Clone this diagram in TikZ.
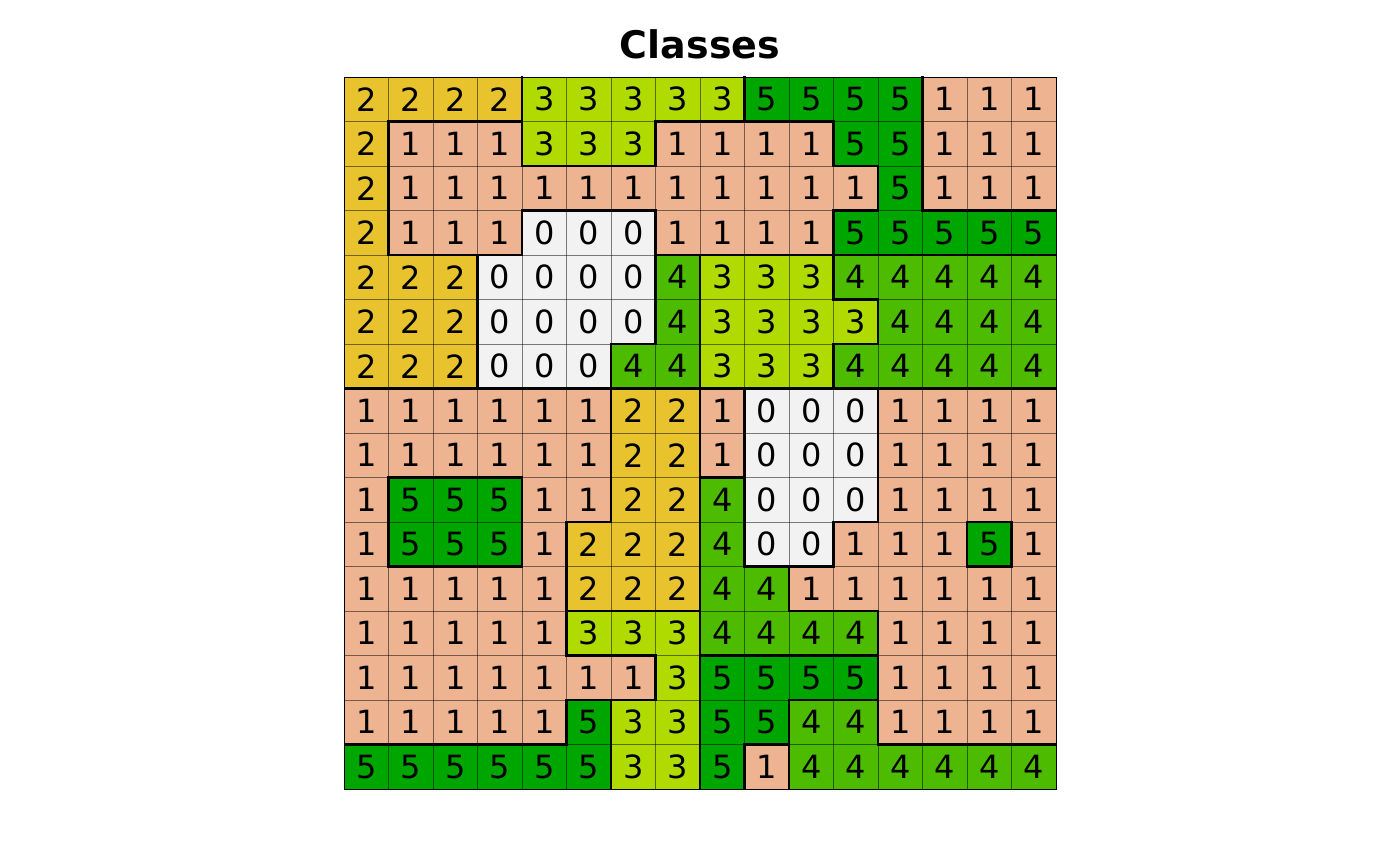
\documentclass[tikz,border=0pt]{standalone}
\usepackage{fontspec}
\setmainfont{DejaVu Sans}
\definecolor{c0}{HTML}{F2F2F2}
\definecolor{c1}{HTML}{EEB391}
\definecolor{c2}{HTML}{E8C32E}
\definecolor{c3}{HTML}{B0DB00}
\definecolor{c4}{HTML}{4DBB00}
\definecolor{c5}{HTML}{00A600}
\definecolor{inkline}{HTML}{020202}
\tikzset{
 cellbox/.style={draw=black,draw opacity=0.5,line width=0.6pt},
 celltext/.style={font=\fontsize{32}{32}\selectfont,text=black,inner sep=0pt},
 regionedge/.style={draw=inkline,line width=2.4pt,line cap=rect},
 frame/.style={draw=black,line width=0.9pt}
}
\begin{document}
\begin{tikzpicture}[x=1pt,y=-1pt]
\useasboundingbox (0,0) rectangle (1400,866);
\fill[white] (0,0) rectangle (1400,866);
\def\cs{44.5}
\def\rowi{{2,2,2,2,3,3,3,3,3,5,5,5,5,1,1,1,
2,1,1,1,3,3,3,1,1,1,1,5,5,1,1,1,
2,1,1,1,1,1,1,1,1,1,1,1,5,1,1,1,
2,1,1,1,0,0,0,1,1,1,1,5,5,5,5,5,
2,2,2,0,0,0,0,4,3,3,3,4,4,4,4,4,
2,2,2,0,0,0,0,4,3,3,3,3,4,4,4,4,
2,2,2,0,0,0,4,4,3,3,3,4,4,4,4,4,
1,1,1,1,1,1,2,2,1,0,0,0,1,1,1,1,
1,1,1,1,1,1,2,2,1,0,0,0,1,1,1,1,
1,5,5,5,1,1,2,2,4,0,0,0,1,1,1,1,
1,5,5,5,1,2,2,2,4,0,0,1,1,1,5,1,
1,1,1,1,1,2,2,2,4,4,1,1,1,1,1,1,
1,1,1,1,1,3,3,3,4,4,4,4,1,1,1,1,
1,1,1,1,1,1,1,3,5,5,5,5,1,1,1,1,
1,1,1,1,1,5,3,3,5,5,4,4,1,1,1,1,
5,5,5,5,5,5,3,3,5,1,4,4,4,4,4,4}}
\foreach \r in {0,...,15}{
 \foreach \c in {0,...,15}{
  \pgfmathtruncatemacro{\v}{\rowi[\r*16+\c]}
  \pgfmathsetmacro{\xa}{344+\c*\cs}
  \pgfmathsetmacro{\ya}{77+\r*\cs}
  \fill[c\v] (\xa,\ya) rectangle ++(\cs,\cs);
 }
}
\foreach \i in {1,...,15}{
  \pgfmathsetmacro{\p}{\i*\cs}
  \draw[cellbox] (344+\p,77) -- (344+\p,789);
  \draw[cellbox] (344,77+\p) -- (1056,77+\p);
}
\begin{scope}
\clip (344,77) rectangle (1056,789);
\foreach \r in {0,...,15}{
 \foreach \c in {0,...,15}{
  \pgfmathtruncatemacro{\v}{\rowi[\r*16+\c]}
  \pgfmathsetmacro{\xa}{344+\c*\cs}
  \pgfmathsetmacro{\ya}{77+\r*\cs}
  \node[celltext,anchor=center] (n\r-\c) at (\xa+\cs/2,\ya+\cs/2) {\v};
  \ifnum\c<15
   \pgfmathtruncatemacro{\w}{\rowi[\r*16+\c+1]}
   \ifnum\v=\w\else\draw[regionedge] (\xa+\cs,\ya) -- ++(0,\cs);\fi
  \fi
  \ifnum\r<15
   \pgfmathtruncatemacro{\w}{\rowi[(\r+1)*16+\c]}
   \ifnum\v=\w\else\draw[regionedge] (\xa,\ya+\cs) -- ++(\cs,0);\fi
  \fi
 }
}
\end{scope}
\draw[frame] (344,77) rectangle (1056,789);
\node[font=\fontsize{38}{38}\selectfont\bfseries,text=black,inner sep=0pt] (title) at (700,44.5) {Classes};
\end{tikzpicture}
\end{document}
